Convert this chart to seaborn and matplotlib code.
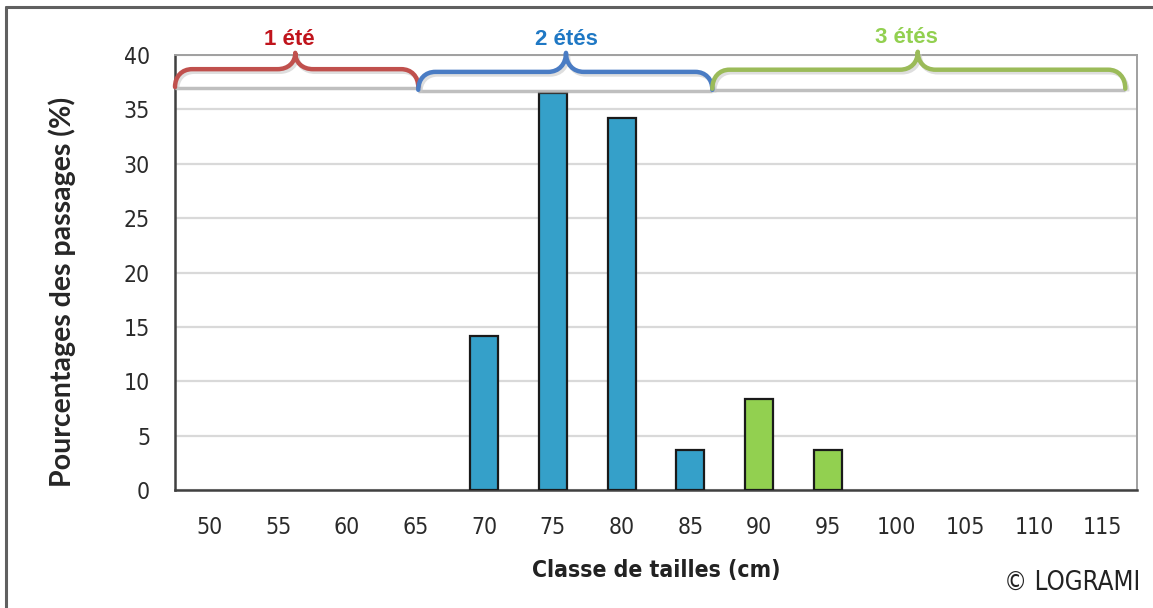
import matplotlib
matplotlib.use("Agg")
import matplotlib.pyplot as plt
from matplotlib.path import Path
from matplotlib.patches import PathPatch
from matplotlib.lines import Line2D
import seaborn as sns
import pandas as pd

# Size classes (cm) and share of fish passages (%)
classes = ["50", "55", "60", "65", "70", "75", "80", "85", "90", "95", "100", "105", "110", "115"]
pourcentages = [0, 0, 0, 0, 14.2, 36.5, 34.2, 3.7, 8.4, 3.7, 0, 0, 0, 0]
periode = ["1 été"] * 4 + ["2 étés"] * 4 + ["3 étés"] * 6

# Age groups shown with braces above the bars
groupes = ["1 été", "2 étés", "3 étés"]

bar_colors = {"1 été": "#C0504D", "2 étés": "#35A0C9", "3 étés": "#92D050"}
brace_colors = {"1 été": "#C0504D", "2 étés": "#4A7CC4", "3 étés": "#9BBB59"}
text_colors = {"1 été": "#C0141C", "2 étés": "#1F78C4", "3 étés": "#92D050"}

df = pd.DataFrame({"classe": classes, "pct": pourcentages, "periode": periode})

sns.set_theme(style="white")
plt.rcParams["font.family"] = ["DejaVu Sans"]
plt.rcParams["font.stretch"] = "condensed"

fig = plt.figure(figsize=(11.53, 6.08), dpi=100)
ax = fig.add_axes([0.1518, 0.1941, 0.8343, 0.7154])

sns.barplot(data=df, x="classe", y="pct", hue="periode", palette=bar_colors,
            dodge=False, width=0.41, edgecolor="#1a1a1a", linewidth=1.6,
            saturation=1, legend=False, ax=ax, zorder=3)
# empty classes get no outline on the axis line
for bar in ax.patches:
    if bar.get_height() == 0:
        bar.set_visible(False)

ax.set_xlim(-0.5, len(classes) - 0.5)
ax.set_ylim(0, 40)
ax.set_yticks(range(0, 41, 5))
ax.yaxis.grid(True, color="#D9D9D9", linewidth=1.6, zorder=0)
ax.set_axisbelow(True)

# category boundaries carry the tick marks, labels sit at the centres
ax.set_xticks([i - 0.5 for i in range(len(classes) + 1)], minor=True)
ax.tick_params(axis="x", which="major", length=0, pad=19, labelsize=16.5, colors="#2a2a2a")
ax.tick_params(axis="x", which="minor", length=8, width=1.6, color="#404040", direction="out")
ax.tick_params(axis="y", length=8, width=1.6, color="#404040", direction="out",
               labelsize=16.5, pad=10, colors="#2a2a2a")

for side in ("left", "bottom"):
    ax.spines[side].set_color("#404040")
    ax.spines[side].set_linewidth(1.8)
for side in ("top", "right"):
    ax.spines[side].set_visible(True)
    ax.spines[side].set_color("#A0A0A0")
    ax.spines[side].set_linewidth(1.4)

ax.set_xlabel("Classe de tailles (cm)", fontsize=16.5, fontweight="bold", color="#222222", labelpad=14)
ax.set_ylabel("Pourcentages des passages (%)", fontsize=20.5, fontweight="bold",
              family=["Lato", "DejaVu Sans"], fontstretch="normal", color="#262626")
ax.yaxis.set_label_coords(-0.103, 0.455)


def brace(x0, x1, xm, yb, yh, yt, rx, rt, color):
    verts = [(x0, yb),
             (x0, yb + (yh - yb) * 0.6), (x0 + rx * 0.4, yh), (x0 + rx, yh),
             (xm - rt, yh),
             (xm - rt * 0.4, yh), (xm, yh + (yt - yh) * 0.4), (xm, yt),
             (xm, yh + (yt - yh) * 0.4), (xm + rt * 0.4, yh), (xm + rt, yh),
             (x1 - rx, yh),
             (x1 - rx * 0.4, yh), (x1, yb + (yh - yb) * 0.6), (x1, yb)]
    codes = ([Path.MOVETO] + [Path.CURVE4] * 3 + [Path.LINETO] + [Path.CURVE4] * 6
             + [Path.LINETO] + [Path.CURVE4] * 3)
    # soft shadow along the base of the brace
    ax.plot([x0, x1], [yb - 0.12, yb - 0.12], color="#B0B0B0", lw=2.5, alpha=0.8,
            solid_capstyle="butt", clip_on=False, zorder=4)
    shadow = PathPatch(Path([(x + 0.03, y - 0.25) for x, y in verts], codes), fill=False,
                       edgecolor="#C8C8C8", lw=3, alpha=0.6, clip_on=False, zorder=4)
    ax.add_patch(shadow)
    ax.add_patch(PathPatch(Path(verts, codes), fill=False, edgecolor=color, lw=3.2,
                           capstyle="round", joinstyle="round", clip_on=False, zorder=5))


brace(-0.5, 3.04, 1.25, 37.05, 38.7, 40.2, 0.25, 0.26, brace_colors["1 été"])
brace(3.04, 7.32, 5.19, 36.8, 38.45, 40.2, 0.25, 0.26, brace_colors["2 étés"])
brace(7.32, 13.33, 10.31, 36.9, 38.65, 40.3, 0.25, 0.26, brace_colors["3 étés"])

label_pos = {"1 été": (1.17, 40.9), "2 étés": (5.2, 40.9), "3 étés": (10.14, 41.1)}
for g in groupes:
    x, y = label_pos[g]
    ax.text(x, y, g, color=text_colors[g], fontsize=16, fontweight="bold",
            family=["Liberation Sans", "DejaVu Sans"], fontstretch="normal",
            ha="center", va="baseline", clip_on=False)

fig.text(0.989, 0.041, "© LOGRAMI", fontsize=18.5, color="#222222", ha="right", va="center")

# outer frame on the top and left edges
fig.add_artist(Line2D([0.005, 1.0], [0.9885, 0.9885], color="#606060", lw=2.2,
                      transform=fig.transFigure))
fig.add_artist(Line2D([0.0052, 0.0052], [0.0, 0.9885], color="#606060", lw=2.2,
                      transform=fig.transFigure))

fig.savefig("out.png", dpi=100)
